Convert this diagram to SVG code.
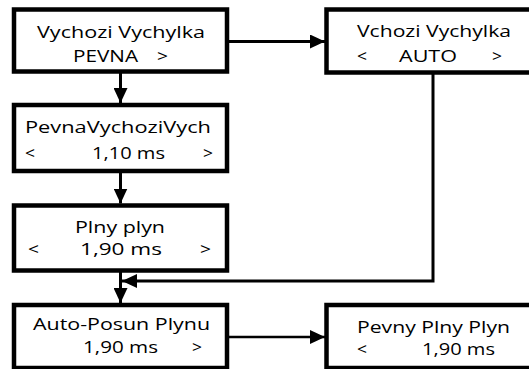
<svg xmlns="http://www.w3.org/2000/svg" width="529" height="369" viewBox="0 0 529 369">
<style>
.box{fill:#fff;stroke:#000;stroke-width:4.5}
.t{font-family:"Open Sans","DejaVu Sans",sans-serif;font-size:17px;fill:#000}
.c{fill:none;stroke:#000;stroke-width:3}
</style>
<defs>
<marker id="ah" markerUnits="userSpaceOnUse" markerWidth="15" markerHeight="14" refX="15" refY="7" orient="auto">
<path d="M0,0 L15,7 L0,14 z" fill="#000"/>
</marker>
</defs>
<rect width="529" height="369" fill="#fff"/>
<g id="connectors">
<line class="c" x1="229" y1="41.5" x2="325" y2="41.5" marker-end="url(#ah)"/>
<line class="c" x1="120.5" y1="73" x2="120.5" y2="103" marker-end="url(#ah)"/>
<line class="c" x1="120.5" y1="172" x2="120.5" y2="203.5" marker-end="url(#ah)"/>
<line class="c" x1="120.5" y1="272" x2="120.5" y2="303" marker-end="url(#ah)"/>
<polyline class="c" points="433,74 433,281 122,281" stroke-width="3" marker-end="url(#ah)"/>
<line class="c" style="stroke-width:2.5" x1="228" y1="337" x2="325" y2="337" marker-end="url(#ah)"/>
</g>
<g id="n1">
<rect class="box" x="14" y="9.5" width="213" height="62"/>
<text class="t" y="37.5"><tspan x="37" textLength="168" lengthAdjust="spacingAndGlyphs">Vychozi Vychylka</tspan></text>
<text class="t" y="62"><tspan x="73" textLength="65" lengthAdjust="spacingAndGlyphs">PEVNA</tspan><tspan x="157" textLength="11" lengthAdjust="spacingAndGlyphs">&gt;</tspan></text>
</g>
<g id="n2">
<rect class="box" x="14" y="105" width="213" height="66"/>
<text class="t" y="133"><tspan x="25" textLength="186" lengthAdjust="spacingAndGlyphs">PevnaVychoziVych</tspan></text>
<text class="t" y="159"><tspan x="25" textLength="10" lengthAdjust="spacingAndGlyphs">&lt;</tspan><tspan x="92" textLength="73" lengthAdjust="spacingAndGlyphs">1,10 ms</tspan><tspan x="203" textLength="10" lengthAdjust="spacingAndGlyphs">&gt;</tspan></text>
</g>
<g id="n3">
<rect class="box" x="14" y="205.5" width="213" height="65"/>
<text class="t" y="233"><tspan x="75" textLength="90" lengthAdjust="spacingAndGlyphs">Plny plyn</tspan></text>
<text class="t" y="255"><tspan x="28" textLength="11" lengthAdjust="spacingAndGlyphs">&lt;</tspan><tspan x="80" textLength="82" lengthAdjust="spacingAndGlyphs">1,90 ms</tspan><tspan x="200" textLength="11" lengthAdjust="spacingAndGlyphs">&gt;</tspan></text>
</g>
<g id="n4">
<rect class="box" x="14" y="305" width="213" height="63"/>
<text class="t" y="330"><tspan x="33" textLength="177" lengthAdjust="spacingAndGlyphs">Auto-Posun Plynu</tspan></text>
<text class="t" y="353"><tspan x="83" textLength="75" lengthAdjust="spacingAndGlyphs">1,90 ms</tspan><tspan x="192" textLength="10" lengthAdjust="spacingAndGlyphs">&gt;</tspan></text>
</g>
<g id="n5">
<rect class="box" x="326.5" y="9.5" width="212" height="63"/>
<text class="t" y="37"><tspan x="357" textLength="154" lengthAdjust="spacingAndGlyphs">Vchozi Vychylka</tspan></text>
<text class="t" y="62"><tspan x="357" textLength="10" lengthAdjust="spacingAndGlyphs">&lt;</tspan><tspan x="399" textLength="58" lengthAdjust="spacingAndGlyphs">AUTO</tspan><tspan x="492" textLength="10" lengthAdjust="spacingAndGlyphs">&gt;</tspan></text>
</g>
<g id="n6">
<rect class="box" x="326.5" y="305" width="212" height="63"/>
<text class="t" y="333"><tspan x="357" textLength="153" lengthAdjust="spacingAndGlyphs">Pevny Plny Plyn</tspan></text>
<text class="t" y="355"><tspan x="357" textLength="10" lengthAdjust="spacingAndGlyphs">&lt;</tspan><tspan x="422" textLength="73" lengthAdjust="spacingAndGlyphs">1,90 ms</tspan></text>
</g>
</svg>
